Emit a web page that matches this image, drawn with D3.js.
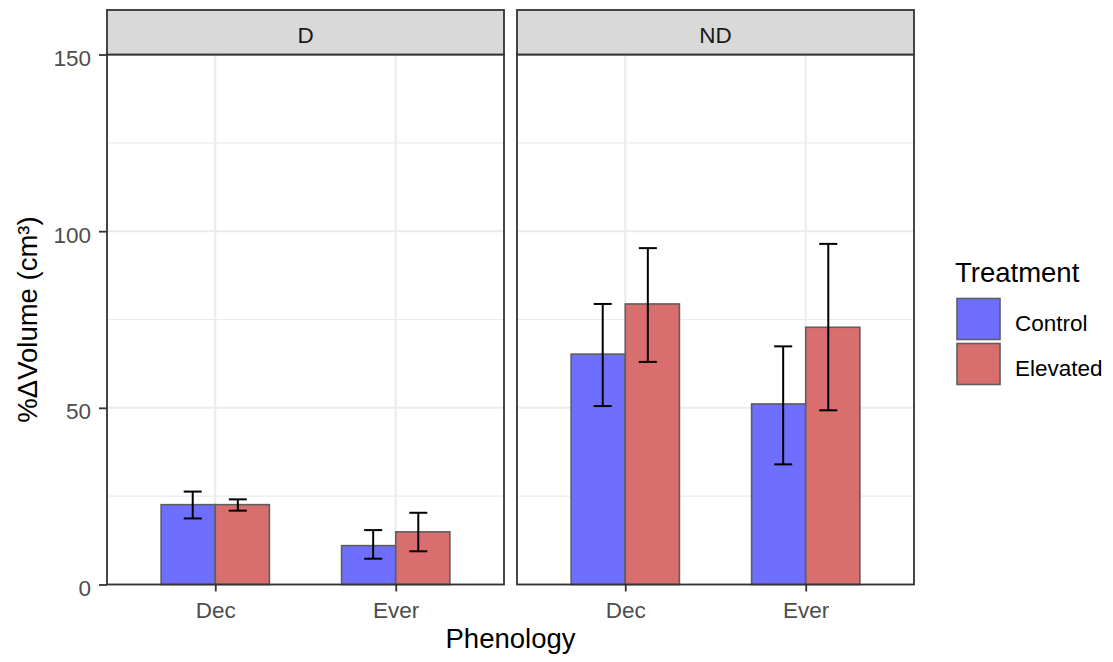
<!DOCTYPE html>
<html>
<head>
<meta charset="utf-8">
<script src="https://cdn.jsdelivr.net/npm/d3@7"></script>
<style>
  html, body { margin: 0; padding: 0; background: #ffffff; }
  svg { display: block; font-family: "Liberation Sans", Arial, sans-serif; }
</style>
</head>
<body>
<svg id="chart" width="1113" height="662"></svg>
<script>
// Facets, categories and treatments
const panels = ["D", "ND"];
const phenology = ["Dec", "Ever"];
const treatments = ["Control", "Elevated"];

// One entry per (panel, phenology) row, in this order
const rowPanel = ["D", "D", "ND", "ND"];
const rowPhenology = ["Dec", "Ever", "Dec", "Ever"];

// % change in volume: means and error bar limits
const controlMean  = [22.6, 11.0, 65.2, 51.1];
const controlLow   = [18.7,  7.3, 50.5, 34.0];
const controlHigh  = [26.3, 15.4, 79.4, 67.4];
const elevatedMean = [22.6, 14.9, 79.4, 72.8];
const elevatedLow  = [20.9,  9.4, 63.0, 49.3];
const elevatedHigh = [24.1, 20.3, 95.2, 96.4];

// Axis ticks
const yMajorTicks = [0, 50, 100, 150];
const yMinorTicks = [25, 75, 125];

const fills = { Control: "#6e6eff", Elevated: "#d96e6e" };

const svg = d3.select("#chart");

const plotTop = 54.5, plotBottom = 584.5, stripTop = 10;
const panelX = { D: [107, 504], ND: [517, 914] };

const y = d3.scaleLinear().domain([0, 150]).range([plotBottom, plotTop]);

const rows = rowPanel.map((p, i) => ({
  panel: p,
  pheno: rowPhenology[i],
  values: [
    { t: "Control", mean: controlMean[i], lo: controlLow[i], hi: controlHigh[i] },
    { t: "Elevated", mean: elevatedMean[i], lo: elevatedLow[i], hi: elevatedHigh[i] }
  ]
}));

panels.forEach(panel => {
  const [x0, x1] = panelX[panel];
  const g = svg.append("g");
  const x = d3.scalePoint().domain(phenology).range([x0, x1]).padding(0.6);
  const step = x.step();
  const dodge = d3.scaleBand().domain(treatments).range([-0.3 * step, 0.3 * step]);
  const errOffset = { Control: -0.125 * step, Elevated: 0.125 * step };
  const capHalf = 0.05 * step;

  // grid
  g.selectAll(".minor").data(yMinorTicks).join("line")
    .attr("x1", x0).attr("x2", x1)
    .attr("y1", d => y(d)).attr("y2", d => y(d))
    .attr("stroke", "#ebebeb").attr("stroke-width", 1.1);
  g.selectAll(".major").data(yMajorTicks).join("line")
    .attr("x1", x0).attr("x2", x1)
    .attr("y1", d => y(d)).attr("y2", d => y(d))
    .attr("stroke", "#ebebeb").attr("stroke-width", 2);
  g.selectAll(".vmajor").data(phenology).join("line")
    .attr("x1", d => x(d)).attr("x2", d => x(d))
    .attr("y1", plotTop).attr("y2", plotBottom)
    .attr("stroke", "#ebebeb").attr("stroke-width", 2);

  const prow = rows.filter(r => r.panel === panel);

  // bars
  prow.forEach(r => {
    g.selectAll(null).data(r.values).join("rect")
      .attr("x", d => x(r.pheno) + dodge(d.t))
      .attr("width", dodge.bandwidth())
      .attr("y", d => y(d.mean))
      .attr("height", d => y(0) - y(d.mean))
      .attr("fill", d => fills[d.t])
      .attr("stroke", "#5e5e5e")
      .attr("stroke-width", 1.6);
  });

  // error bars
  prow.forEach(r => {
    r.values.forEach(d => {
      const cx = x(r.pheno) + errOffset[d.t];
      const eg = g.append("g").attr("stroke", "#000").attr("stroke-width", 2).attr("fill", "none");
      eg.append("line").attr("x1", cx).attr("x2", cx).attr("y1", y(d.lo)).attr("y2", y(d.hi));
      eg.append("line").attr("x1", cx - capHalf).attr("x2", cx + capHalf).attr("y1", y(d.lo)).attr("y2", y(d.lo));
      eg.append("line").attr("x1", cx - capHalf).attr("x2", cx + capHalf).attr("y1", y(d.hi)).attr("y2", y(d.hi));
    });
  });

  // panel border
  g.append("rect").attr("x", x0).attr("y", plotTop).attr("width", x1 - x0).attr("height", plotBottom - plotTop)
    .attr("fill", "none").attr("stroke", "#333333").attr("stroke-width", 1.8);

  // strip
  g.append("rect").attr("x", x0).attr("y", stripTop).attr("width", x1 - x0).attr("height", plotTop - stripTop)
    .attr("fill", "#d9d9d9").attr("stroke", "#333333").attr("stroke-width", 1.8);
  g.append("text").attr("x", (x0 + x1) / 2).attr("y", 43).attr("text-anchor", "middle")
    .attr("font-size", 22.5).attr("fill", "#1a1a1a").text(panel);

  // x axis ticks + labels
  const xa = g.append("g").attr("transform", `translate(0,${plotBottom})`)
    .call(d3.axisBottom(x).tickSize(7).tickPadding(0));
  xa.select(".domain").remove();
  xa.selectAll(".tick line").attr("stroke", "#333333").attr("stroke-width", 1.8);
  xa.selectAll(".tick text").attr("font-size", 22.5).attr("fill", "#4d4d4d")
    .attr("font-family", "Liberation Sans, Arial, sans-serif")
    .attr("dy", null).attr("y", 618 - plotBottom);
});

// y axis
const ya = svg.append("g").attr("transform", `translate(${panelX.D[0]},0)`)
  .call(d3.axisLeft(y).tickValues(yMajorTicks).tickSize(8).tickPadding(0));
ya.select(".domain").remove();
ya.selectAll(".tick line").attr("stroke", "#333333").attr("stroke-width", 1.8);
ya.selectAll(".tick text").attr("font-size", 22.5).attr("fill", "#4d4d4d")
  .attr("font-family", "Liberation Sans, Arial, sans-serif")
  .attr("x", -16).attr("dy", null).attr("y", 11);

// axis titles
svg.append("text").attr("x", 510.5).attr("y", 648).attr("text-anchor", "middle")
  .attr("font-size", 27.5).attr("fill", "#000").text("Phenology");
svg.append("text").attr("transform", `translate(37,${(plotTop + plotBottom) / 2}) rotate(-90)`)
  .attr("text-anchor", "middle").attr("font-size", 27.5).attr("fill", "#000")
  .text("%ΔVolume (cm³)");

// legend
const legend = svg.append("g");
legend.append("text").attr("x", 955).attr("y", 282).attr("font-size", 27.5).attr("fill", "#000").text("Treatment");
treatments.forEach((t, i) => {
  const ky = 298.5 + i * 45;
  legend.append("rect").attr("x", 957).attr("y", ky).attr("width", 43).attr("height", 41)
    .attr("fill", fills[t]).attr("stroke", "#5e5e5e").attr("stroke-width", 1.6);
  legend.append("text").attr("x", 1015).attr("y", ky + 32.5).attr("font-size", 22.5).attr("fill", "#000").text(t);
});
</script>
</body>
</html>
